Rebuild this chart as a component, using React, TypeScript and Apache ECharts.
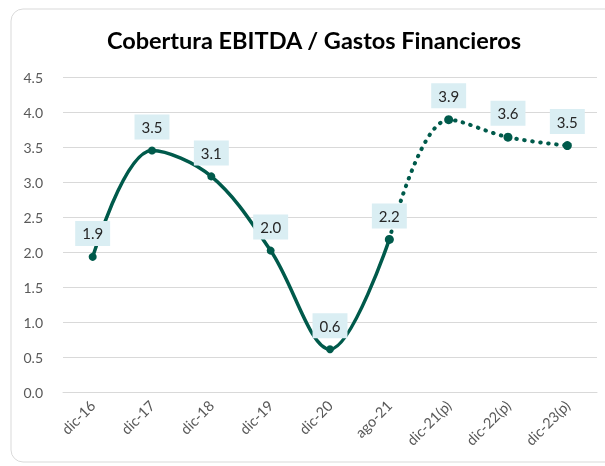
import React, { useEffect, useRef } from "react";
import * as echarts from "echarts";

const categories = ["dic-16", "dic-17", "dic-18", "dic-19", "dic-20", "ago-21", "dic-21(p)", "dic-22(p)", "dic-23(p)"];
const actualValues: (number | null)[] = [1.93, 3.45, 3.08, 2.02, 0.61, 2.18, null, null, null];
const projectedValues: (number | null)[] = [null, null, null, null, null, 2.18, 3.89, 3.64, 3.52];
const yTicks = [0, 0.5, 1, 1.5, 2, 2.5, 3, 3.5, 4, 4.5];

const LINE = "#005A4B";
const FONT = "Lato, 'Noto Sans', sans-serif";

export default function App() {
  const ref = useRef<HTMLDivElement>(null);
  useEffect(() => {
    if (!ref.current) return;
    const chart = echarts.init(ref.current, null, { renderer: "svg" });
    const labelStyle = {
      show: true,
      position: "top",
      distance: 7,
      formatter: (p: any) => Number(p.value).toFixed(1),
      fontSize: 15,
      fontFamily: FONT,
      color: "#262626",
      backgroundColor: "#DAEEF3",
      padding: [5, 7, 5, 7],
    };
    chart.setOption({
      animation: false,
      graphic: [
        {
          type: "rect",
          z: -10,
          shape: { x: 11, y: 9, width: 620, height: 453, r: 12 },
          style: { fill: "#fff", stroke: "#D9D9D9", lineWidth: 1 },
        },
        {
          type: "text",
          x: 314,
          y: 40,
          style: {
            text: "Cobertura EBITDA / Gastos Financieros",
            align: "center",
            verticalAlign: "middle",
            fontSize: 23.5,
            fontWeight: "bold",
            fontFamily: FONT,
            fill: "#000",
          },
        },
      ],
      grid: { left: 63, right: 8, top: 77, bottom: 74 },
      xAxis: {
        type: "category",
        data: categories,
        boundaryGap: true,
        axisLine: { lineStyle: { color: "#D9D9D9" } },
        axisTick: { show: false },
        axisLabel: { rotate: 45, color: "#595959", fontSize: 14.5, fontFamily: FONT, margin: 11, interval: 0 },
      },
      yAxis: {
        type: "value",
        min: yTicks[0],
        max: yTicks[yTicks.length - 1],
        interval: 0.5,
        axisLine: { show: false },
        axisTick: { show: false },
        splitLine: { lineStyle: { color: "#D9D9D9", width: 1 } },
        axisLabel: { color: "#595959", fontSize: 14, fontFamily: FONT, margin: 20, formatter: (v: number) => v.toFixed(1) },
      },
      series: [
        {
          type: "line",
          data: actualValues,
          smooth: 0.35,
          symbol: "circle",
          symbolSize: 8,
          itemStyle: { color: LINE },
          lineStyle: { color: LINE, width: 3.5 },
          label: labelStyle,
          z: 3,
        },
        {
          type: "line",
          data: projectedValues.map((v, i) => (v !== null && actualValues[i] !== null ? { value: v, label: { show: false } } : v)),
          smooth: 0.35,
          symbol: "circle",
          symbolSize: 9,
          itemStyle: { color: LINE },
          lineStyle: { color: LINE, width: 4, type: [0.5, 7.5], cap: "round" },
          label: labelStyle,
          z: 3,
        },
      ],
    });
    return () => chart.dispose();
  }, []);
  return <div ref={ref} style={{ position: "fixed", left: 0, top: 0, width: 605, height: 466 }} />;
}
